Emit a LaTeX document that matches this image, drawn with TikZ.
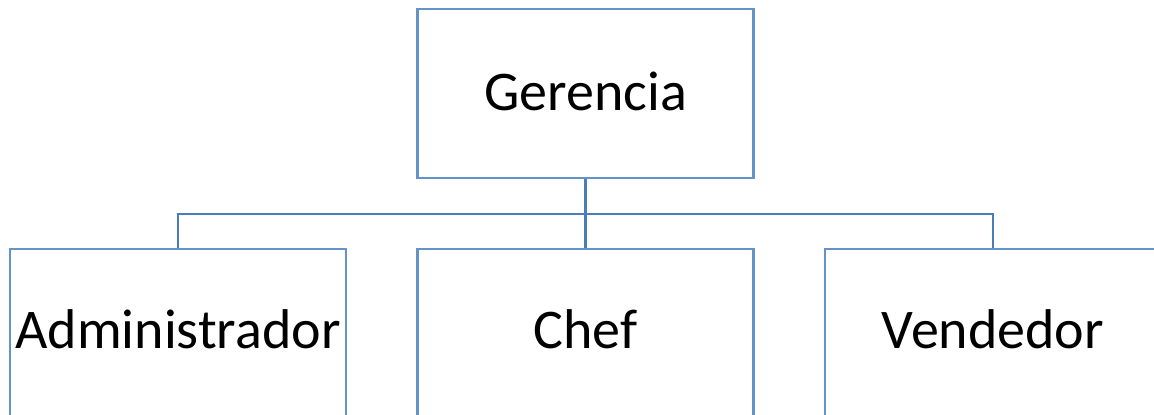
\documentclass[tikz,border=0pt]{standalone}
\usepackage{fontspec}
\setmainfont{Carlito}
\definecolor{boxline}{HTML}{6394C9}
\definecolor{linkline}{HTML}{4A7EBB}
\begin{document}
\begin{tikzpicture}[x=1pt,y=-1pt,
  orgbox/.style={draw=boxline,line width=2.2pt,fill=white,inner sep=0pt,outer sep=0pt,
    minimum width=336pt,minimum height=169pt},
  label/.style={font=\fontsize{56}{56}\selectfont,anchor=base,inner sep=0pt},
  link/.style={draw=linkline,line width=2.4pt}]
\useasboundingbox (0,0) rectangle (1154,415);
\clip (0,0) rectangle (1154,415);
% boxes
\node[orgbox] (ger) at (585.5,93.5) {};
\node[orgbox] (adm) at (178,333.5) {};
\node[orgbox] (chef) at (585.5,333.5) {};
\node[orgbox] (ven) at (993,333.5) {};
% connectors
\coordinate (bus) at (585.5,214);
\draw[link] (ger.south) -- (bus);
\draw[link] (adm.north) |- (bus) -| (ven.north);
\draw[link] (bus) -- (chef.north);
% redraw box outlines over connector ends
\foreach \n in {ger,adm,chef,ven}
  \draw[boxline,line width=2.2pt] (\n.north west) rectangle (\n.south east);
% texts
\node[label] (tger) at (585.5,110) {Gerencia};
\node[label] (tadm) at (178,348) {Administrador};
\node[label] (tchef) at (585.5,348) {Chef};
\node[label] (tven) at (993,348) {Vendedor};
\end{tikzpicture}
\end{document}
